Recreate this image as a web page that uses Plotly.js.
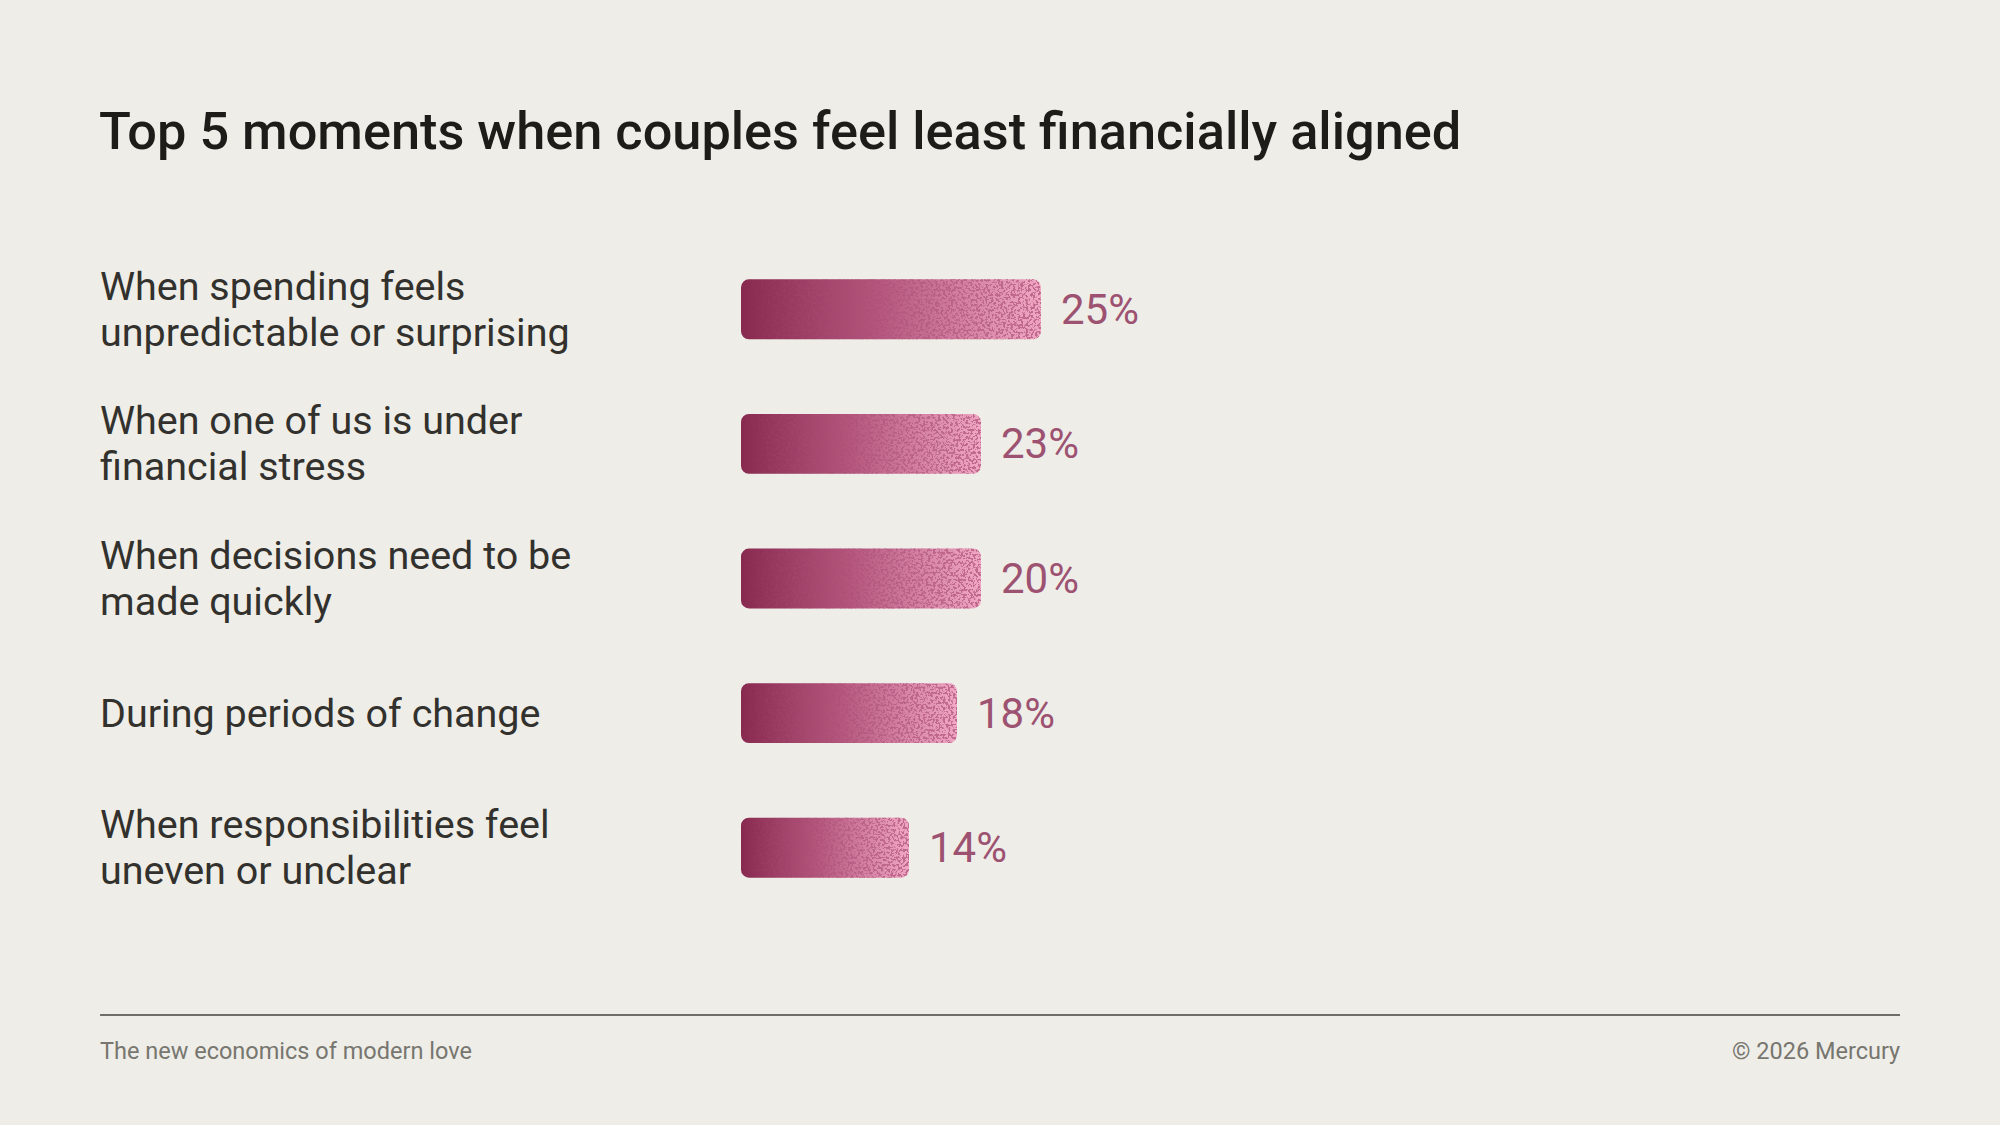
<!DOCTYPE html>
<html>
<head>
<meta charset="utf-8">
<script src="https://cdn.plot.ly/plotly-3.0.1.min.js"></script>
<style>
  html, body { margin: 0; padding: 0; background: #eeede8; }
  #chart { width: 2000px; height: 1125px; }
</style>
</head>
<body>
<div id="chart"></div>
<script>
// categories, top to bottom
const moments = [
  "When spending feels<br>unpredictable or surprising",
  "When one of us is under<br>financial stress",
  "When decisions need to be<br>made quickly",
  "During periods of change",
  "When responsibilities feel<br>uneven or unclear"
];
// bar lengths as drawn in the picture
const barLengths = [25, 20, 20, 18, 14];
// printed values
const valueLabels = ["25%", "23%", "20%", "18%", "14%"];

const font = "Roboto, 'Noto Sans', sans-serif";
const rows = moments.map((m, i) => i);

const barTrace = {
  type: "bar",
  orientation: "h",
  x: barLengths,
  y: rows,
  width: 0.445,
  marker: { color: "#b45a80", line: { width: 0 } },
  hoverinfo: "none",
  cliponaxis: false
};

// linker Text, Zeile fuer Zeile (engerer Zeilenabstand)
const lineGap = 46;
const labelNotes = moments.flatMap((m, i) => {
  const lines = m.split("<br>");
  return lines.map((t, k) => ({
    xref: "paper", yref: "y",
    x: -0.5547, y: i,
    yshift: ((lines.length - 1) / 2 - k) * lineGap,
    xanchor: "left", yanchor: "middle", align: "left",
    text: t,
    showarrow: false,
    font: { family: font, size: 39.5, color: "#32312d" }
  }));
});

// Werte rechts neben den Balken
const valueNotes = barLengths.map((v, i) => ({
  xref: "x", yref: "y",
  x: v, y: i,
  xanchor: "left", yanchor: "middle",
  xshift: 18,
  text: valueLabels[i],
  showarrow: false,
  font: { family: font, size: 42, color: "#9c5270" }
}));

const layout = {
  width: 2000,
  height: 1125,
  paper_bgcolor: "#eeede8",
  plot_bgcolor: "#eeede8",
  margin: { l: 741, r: 100, t: 242, b: 210 },
  showlegend: false,
  title: {
    text: "Top 5 moments when couples feel least financially aligned",
    x: 99 / 2000, xanchor: "left", xref: "container",
    y: 1 - 131 / 1125, yanchor: "middle", yref: "container",
    font: { family: font, size: 52.3, weight: 500, color: "#1d1c19" }
  },
  xaxis: { visible: false, range: [0, 1159 / 12], fixedrange: true },
  yaxis: { visible: false, range: [4.5, -0.5], fixedrange: true },
  shapes: [
    {
      type: "line", xref: "paper", yref: "paper",
      x0: -0.553, x1: 1, y0: -0.1486, y1: -0.1486,
      line: { color: "#6e6d68", width: 2 }
    }
  ],
  annotations: [
    ...labelNotes,
    ...valueNotes,
    {
      xref: "paper", yref: "paper", x: -0.5547, y: -0.202,
      xanchor: "left", yanchor: "middle",
      text: "The new economics of modern love", showarrow: false,
      font: { family: font, size: 23.5, color: "#77766f" }
    },
    {
      xref: "paper", yref: "paper", x: 1.0015, y: -0.202,
      xanchor: "right", yanchor: "middle",
      text: "© 2026 Mercury", showarrow: false,
      font: { family: font, size: 23.5, color: "#77766f" }
    }
  ],
  dragmode: false
};

Plotly.newPlot("chart", [barTrace], layout, { displayModeBar: false, staticPlot: true }).then(gd => {
  // Verlauf + Koernung fuer die Balken
  const svg = gd.querySelector(".main-svg");
  const ns = "http://www.w3.org/2000/svg";
  let defs = svg.querySelector("defs");
  if (!defs) { defs = document.createElementNS(ns, "defs"); svg.prepend(defs); }
  defs.insertAdjacentHTML("beforeend",
    '<linearGradient id="barGrad" x1="0" y1="0" x2="1" y2="0">' +
    '<stop offset="0" stop-color="#88294f"/>' +
    '<stop offset="0.45" stop-color="#b4557c"/>' +
    '<stop offset="1" stop-color="#f0a7c4"/>' +
    '</linearGradient>' +
    '<linearGradient id="grainGrad" x1="0" y1="0" x2="1" y2="0">' +
    '<stop offset="0" stop-color="#a64c74" stop-opacity="0"/>' +
    '<stop offset="0.3" stop-color="#a64c74" stop-opacity="0.4"/>' +
    '<stop offset="1" stop-color="#b45a80" stop-opacity="0.8"/>' +
    '</linearGradient>' +
    '<filter id="grain" x="0" y="0" width="1" height="1">' +
    '<feTurbulence type="fractalNoise" baseFrequency="0.4" numOctaves="2" seed="7" result="n"/>' +
    '<feColorMatrix in="n" type="matrix" values="0 0 0 0 0  0 0 0 0 0  0 0 0 0 0  14 0 0 0 -7" result="mask"/>' +
    '<feComposite in="SourceGraphic" in2="mask" operator="in"/>' +
    '</filter>');
  // beide Enden abrunden
  const r = 8;
  gd.querySelectorAll(".bars .point path").forEach(p => {
    const b = p.getBBox();
    const x0 = b.x, y0 = b.y, x1 = b.x + b.width, y1 = b.y + b.height;
    p.setAttribute("d",
      `M${x0 + r},${y0}H${x1 - r}A${r},${r} 0 0 1 ${x1},${y0 + r}V${y1 - r}` +
      `A${r},${r} 0 0 1 ${x1 - r},${y1}H${x0 + r}A${r},${r} 0 0 1 ${x0},${y1 - r}` +
      `V${y0 + r}A${r},${r} 0 0 1 ${x0 + r},${y0}Z`);
    p.style.fill = "url(#barGrad)";
    const g = p.cloneNode(false);
    g.style.fill = "url(#grainGrad)";
    g.setAttribute("filter", "url(#grain)");
    p.after(g);
  });
});
</script>
</body>
</html>
